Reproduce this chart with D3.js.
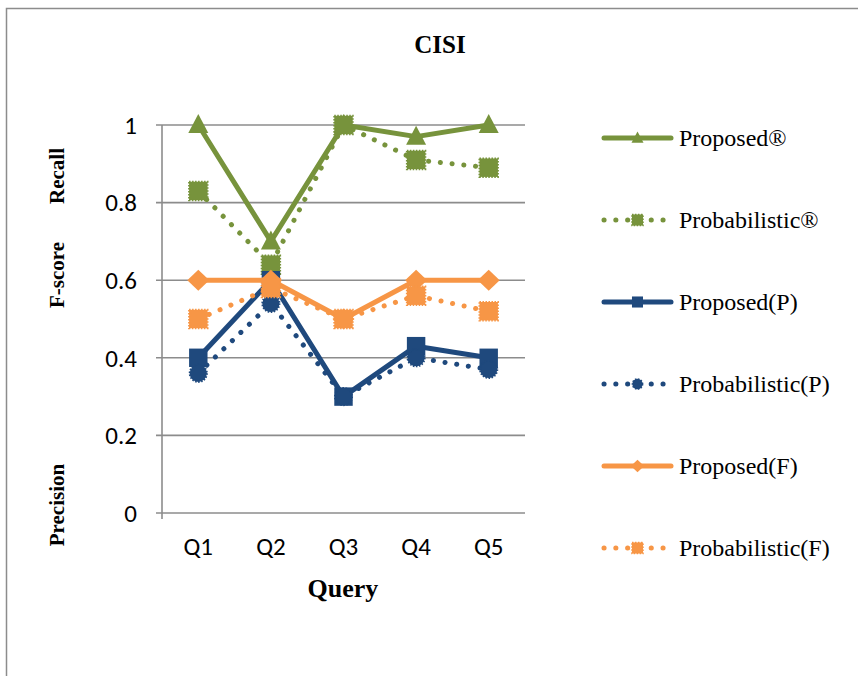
<!DOCTYPE html>
<html><head><meta charset="utf-8">
<script src="https://cdn.jsdelivr.net/npm/d3@7"></script>
<style>body{margin:0;background:#fff}svg{display:block}</style>
</head><body>
<svg id="c" width="858" height="676"></svg>
<script>
const categories = ["Q1","Q2","Q3","Q4","Q5"];
const proposedR = [1.0, 0.70, 1.0, 0.97, 1.0];
const probabilisticR = [0.83, 0.64, 1.0, 0.91, 0.89];
const proposedP = [0.40, 0.60, 0.30, 0.43, 0.40];
const probabilisticP = [0.36, 0.54, 0.30, 0.40, 0.37];
const proposedF = [0.60, 0.60, 0.50, 0.60, 0.60];
const probabilisticF = [0.50, 0.58, 0.50, 0.56, 0.52];
const yTicks = [0, 0.2, 0.4, 0.6, 0.8, 1];
const seriesNames = ["Proposed®","Probabilistic®","Proposed(P)","Probabilistic(P)","Proposed(F)","Probabilistic(F)"];

const green = "#77933C", blue = "#1F497D", orange = "#F79646";
const series = [
  {name: seriesNames[0], values: proposedR, color: green, dotted: false, marker: "triangle"},
  {name: seriesNames[1], values: probabilisticR, color: green, dotted: true, marker: "square"},
  {name: seriesNames[2], values: proposedP, color: blue, dotted: false, marker: "square"},
  {name: seriesNames[3], values: probabilisticP, color: blue, dotted: true, marker: "circle"},
  {name: seriesNames[4], values: proposedF, color: orange, dotted: false, marker: "diamond"},
  {name: seriesNames[5], values: probabilisticF, color: orange, dotted: true, marker: "square"}
];

const svg = d3.select("#c");
svg.append("path").attr("d","M6.5,676 V8.5 H858").attr("fill","none").attr("stroke","#8c8c8c").attr("stroke-width",1.5);

const x0 = 162, x1 = 525, yTop = 125, yBot = 513;
const x = d3.scaleBand().domain(categories).range([x0, x1]);
const y = d3.scaleLinear().domain([0,1]).range([yBot, yTop]);
const serif = "'Liberation Serif','Times New Roman',serif";
const sans = "Carlito, Calibri, Lato, 'Liberation Sans', sans-serif";

svg.append("g").selectAll("line").data(yTicks).join("line")
  .attr("x1", x0-6).attr("x2", x1).attr("y1", d=>y(d)).attr("y2", d=>y(d))
  .attr("stroke","#8c8c8c").attr("stroke-width",1.6);
svg.append("line").attr("x1",x0).attr("x2",x0).attr("y1",yTop).attr("y2",yBot+6)
  .attr("stroke","#8c8c8c").attr("stroke-width",1.6);

svg.append("g").selectAll("text").data(yTicks).join("text")
  .attr("x", 137).attr("y", d=>y(d)).attr("dy","0.35em").attr("text-anchor","end")
  .attr("font-family",sans).attr("font-size",25).attr("fill","#000")
  .text(d=>d3.format("")(d));
svg.append("g").selectAll("text").data(categories).join("text")
  .attr("x", d=>x(d)+x.bandwidth()/2).attr("y", 555).attr("text-anchor","middle")
  .attr("font-family",sans).attr("font-size",25).attr("fill","#000")
  .text(d=>d);

svg.append("text").attr("x",440).attr("y",53).attr("text-anchor","middle")
  .attr("font-family",serif).attr("font-weight","bold").attr("font-size",25).text("CISI");
svg.append("text").attr("x",343).attr("y",597).attr("text-anchor","middle")
  .attr("font-family",serif).attr("font-weight","bold").attr("font-size",26).text("Query");
const yTitles = [["Recall",176],["F-score",275],["Precision",505]];
yTitles.forEach(([t,cy])=>{
  svg.append("text").attr("transform",`translate(64,${cy}) rotate(-90)`).attr("text-anchor","middle")
    .attr("font-family",serif).attr("font-weight","bold").attr("font-size",21).text(t);
});

function markerPath(type, k){
  k = k || 1;
  if(type==="triangle") return `M0,${-11*k} L${10*k},${8*k} L${-10*k},${8*k} Z`;
  if(type==="square") return d3.symbol(d3.symbolSquare, 340*k*k)();
  if(type==="diamond") return `M0,${-10.5*k} L${11*k},0 L0,${10.5*k} L${-11*k},0 Z`;
  if(type==="circle") return d3.symbol(d3.symbolCircle, 230*k*k)();
}

const line = d3.line().x((d,i)=>x(categories[i])+x.bandwidth()/2).y(d=>y(d));
const plot = svg.append("g");
series.forEach(s=>{
  const g = plot.append("g");
  g.append("path").attr("d", line(s.values)).attr("fill","none").attr("stroke", s.color)
    .attr("stroke-width", s.dotted?5:5).attr("stroke-linecap","round")
    .attr("stroke-linejoin","round")
    .attr("stroke-dasharray", s.dotted? "0.1,11.7":null);
  g.selectAll("path.m").data(s.values).join("path").attr("class","m")
    .attr("transform",(d,i)=>`translate(${x(categories[i])+x.bandwidth()/2},${y(d)})`)
    .attr("d", markerPath(s.marker)).attr("fill", s.color)
    .attr("stroke", s.dotted? s.color:"none").attr("stroke-width", s.dotted?2:0)
    .attr("stroke-dasharray", s.dotted?"1.5,1.5":null);
});

const lg = svg.append("g");
series.forEach((s,i)=>{
  const cy = 138 + i*82;
  const g = lg.append("g").attr("transform",`translate(0,${cy})`);
  g.append("line").attr("x1",604).attr("x2",671).attr("y1",0).attr("y2",0)
    .attr("stroke",s.color).attr("stroke-width", 5).attr("stroke-linecap","round")
    .attr("stroke-dasharray", s.dotted?"0.1,11.7":null);
  g.append("path").attr("transform",`translate(637.5,0)`).attr("d", markerPath(s.marker, 0.6))
    .attr("fill",s.color).attr("stroke", s.dotted? s.color:"none").attr("stroke-width", s.dotted?1.5:0)
    .attr("stroke-dasharray", s.dotted?"1.5,1.5":null);
  g.append("text").attr("x",679).attr("y",0).attr("dy","0.35em")
    .attr("font-family",serif).attr("font-size",24).text(s.name);
});
</script>
</body></html>
